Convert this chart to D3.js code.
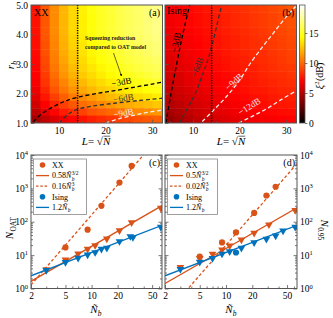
<!DOCTYPE html>
<html><head><meta charset="utf-8">
<script src="https://cdn.jsdelivr.net/npm/d3@7"></script>
<style>body{margin:0;background:#fff}svg{display:block}text{font-family:"Liberation Serif","DejaVu Serif",serif}</style>
</head><body><svg id="c" width="333" height="318"></svg>
<script>
// ---------- DATA ----------
const heatL = [5,7,9,11,13,15,17,19,21,23,25,27,29,31];
const heatR = [4.875,4.625,4.375,4.125,3.875,3.625,3.375,3.125,2.875,2.625,2.375,2.125,1.875,1.625,1.375,1.125];
const xiXX = [
[7.5,9.5,11,12.2,13.2,13.9,14.5,15,15.4,15.8,16.2,16.5,16.8,17.1],
[7.5,9.5,11,12.2,13.2,13.9,14.5,15,15.4,15.8,16.2,16.5,16.8,17.1],
[7.5,9.5,11,12.2,13.2,13.9,14.5,15,15.4,15.8,16.2,16.5,16.8,17.1],
[7.5,9.5,11,12.2,13.2,13.9,14.5,15,15.4,15.8,16.2,16.5,16.8,17.1],
[7.4,9.4,10.9,12.1,13.1,13.8,14.4,14.9,15.3,15.7,16.1,16.4,16.7,17.0],
[7.4,9.3,10.8,12.0,13.0,13.6,14.2,14.7,15.1,15.5,15.9,16.2,16.5,16.8],
[7.3,9.3,10.7,11.9,12.8,13.5,14.1,14.6,15.0,15.4,15.8,16.1,16.4,16.7],
[7.2,9.1,10.6,11.7,12.7,13.3,13.9,14.4,14.8,15.2,15.6,15.9,16.1,16.4],
[7.1,9.0,10.4,11.5,12.4,13.1,13.6,14.1,14.5,14.9,15.3,15.6,15.9,16.1],
[7.0,8.7,10.1,11.2,12.1,12.8,13.3,13.8,14.2,14.5,14.9,15.2,15.5,15.8],
[6.8,8.5,9.8,10.8,11.7,12.3,12.9,13.3,13.7,14.1,14.4,14.7,15.0,15.3],
[6.5,8.1,9.4,10.4,11.2,11.8,12.3,12.8,13.1,13.5,13.8,14.1,14.4,14.7],
[6.2,7.6,8.8,9.7,10.5,11.0,11.5,11.9,12.3,12.7,13.0,13.3,13.5,13.8],
[5.7,7.0,8.0,8.8,9.5,10.1,10.5,10.9,11.3,11.6,11.9,12.2,12.4,12.7],
[5.2,6.2,7.1,7.8,8.4,8.9,9.4,9.7,10.0,10.3,10.6,10.9,11.1,11.3],
[4.5,5.3,6.0,6.6,7.1,7.5,7.9,8.2,8.5,8.8,9.0,9.3,9.5,9.7]
];
const xiIsing = [
[6.8,7.0,7.2,7.4,7.6,7.8,8.0,8.2,8.4,8.6,8.8,9.0,9.2,9.4],
[6.7,6.9,7.1,7.3,7.5,7.7,7.9,8.1,8.3,8.5,8.7,8.9,9.1,9.3],
[6.6,6.9,7.1,7.3,7.5,7.7,7.9,8.1,8.3,8.5,8.7,8.9,9.1,9.3],
[6.5,6.8,7.0,7.2,7.4,7.6,7.8,8.0,8.2,8.4,8.6,8.8,9.0,9.2],
[6.4,6.7,6.9,7.1,7.3,7.5,7.7,7.9,8.1,8.3,8.5,8.7,8.9,9.1],
[6.3,6.6,6.8,7.0,7.2,7.5,7.7,7.9,8.1,8.3,8.4,8.6,8.8,9.0],
[6.2,6.4,6.7,6.9,7.1,7.4,7.6,7.8,8.0,8.2,8.3,8.5,8.7,8.9],
[6.1,6.3,6.6,6.8,7.0,7.3,7.5,7.7,7.9,8.1,8.2,8.4,8.6,8.8],
[5.9,6.2,6.4,6.7,6.9,7.2,7.4,7.6,7.8,7.9,8.1,8.3,8.5,8.6],
[5.8,6.0,6.3,6.6,6.8,7.0,7.2,7.4,7.6,7.8,8.0,8.2,8.3,8.5],
[5.6,5.9,6.2,6.4,6.7,6.9,7.1,7.3,7.5,7.7,7.9,8.0,8.2,8.3],
[5.4,5.7,6.0,6.3,6.5,6.8,7.0,7.2,7.4,7.6,7.7,7.9,8.0,8.1],
[5.1,5.5,5.8,6.1,6.3,6.6,6.8,7.0,7.2,7.4,7.5,7.7,7.8,7.9],
[4.9,5.2,5.6,5.9,6.1,6.4,6.6,6.8,7.0,7.2,7.3,7.5,7.6,7.7],
[4.6,4.9,5.3,5.6,5.9,6.2,6.4,6.6,6.8,7.0,7.1,7.2,7.3,7.4],
[4.2,4.6,5.0,5.3,5.6,5.9,6.1,6.3,6.5,6.7,6.8,6.9,7.0,7.1]
];
// contour lines [L, r_b]
const contXX3 = [[4.5,1.04],[6,1.28],[8.8,1.55],[11,1.72],[13.9,1.87],[18,2.0],[22,2.1],[26,2.21],[30,2.32],[32.2,2.39]];
const contXX6 = [[10,1.0],[12,1.3],[13.9,1.46],[17,1.57],[22,1.67],[27,1.76],[32.2,1.84]];
const contXX9 = [[20,1.0],[23,1.15],[26,1.26],[29,1.36],[32.2,1.44]];
const contIs3 = [[4.2,1.0],[5.3,2.0],[6.5,3.0],[7.8,4.0],[9.3,5.0]];
const contIs6 = [[7.1,1.0],[8.8,1.5],[10.5,2.0],[12.2,2.7],[13.3,3.2],[14.2,3.7],[15.1,4.3],[16.1,4.95]];
const contIs9 = [[12,1.05],[14.5,1.45],[17.2,1.9],[20,2.45],[22.2,3.0],[25,3.6],[27.2,4.04],[30,4.6],[32,4.95]];
const contIs12 = [[19.8,1.0],[23,1.25],[26,1.5],[29,1.8],[32.2,2.1]];
const dottedL = 14;
// panel (c)
const cXXcircN = [5,9,13,21,29];
const cXXcircV = [17,58,300,1490,4700];
const cXXtriN = [3,5,7,9,11,15,21,29,63];
const cXXtriV = [3.7,7.3,11.1,15.3,19.6,31,55,95,257];
const cIsTriN = [3,5,7,9,11,13,15,21,28,30,63];
const cIsTriV = [3.5,6.1,8.2,10.3,12.1,15.3,16.4,25.8,36.4,34,69.6];
// panel (d)
const dXXcircN = [5,9,13,21,29,37];
const dXXcircV = [9.1,24,48,184,611,1117];
const dXXtriN = [3,5,7,9,11,15,21,31,62];
const dXXtriV = [4.3,8.1,10.9,14.4,19.1,28.9,46,82,220];
const dIsTriN = [3,5,7,9,11,15,21,29,37,45,62];
const dIsTriV = [3.8,6.2,8.1,10.9,12.8,16.3,24,30.3,38,54,69.6];
const dIsCircN = [13];
const dIsCircV = [12];
// fit lines: endpoints at N = 2 and 65
const fitN = [2,65];
const cFitXX15 = [1.64,303.9];
const cFitXX3 = [1.28,43940];
const cFitIs = [2.4,78];
const dFitXX15 = [1.41,262];
const dFitXX3 = [0.16,5493];
const dFitIs = [2.4,78];
const cbTicks = [0,5,10,15];
const heatXTicks = [10,20,30];
const heatYTicks = [1,2,3,4,5];
const logXTicks = [2,5,10,20,50];
const logYTicks = [1,10,100,1000,10000];

// ---------- LAYOUT ----------
const svg = d3.select('#c');
const ORANGE = '#D95319', BLUE = '#0072BD', FRAME = '#555';
const A = {x0:31,x1:162.5,y0:5,y1:123};
const B = {x0:165,x1:296.5,y0:5,y1:123};
const CB = {x0:299.5,x1:305,y0:5,y1:123};
const C = {x0:31,x1:162,y0:155,y1:288.5};
const D = {x0:165,x1:297,y0:155,y1:288.5};
const TF = 9.5;

const color = d3.scaleLinear().domain([0,7,14.3,19.67]).range(['#000000','#ff0000','#ffff00','#ffffff']).clamp(true);

function mtext(parent, x, y, segs, size, opts={}) {
  const g = parent.append('g').attr('transform', `translate(${x},${y}) rotate(${opts.rot||0})`);
  const inner = g.append('g');
  const fill = opts.fill || '#000';
  let cx = 0;
  segs.forEach(s => {
    if (s.t !== undefined) {
      const t = inner.append('text').attr('x',cx).attr('y',0).attr('font-size',size).attr('fill',fill)
        .attr('font-style', s.i ? 'italic' : 'normal').text(s.t);
      const w = t.node().getComputedTextLength();
      if (s.ol) inner.append('line').attr('x1',cx+0.5).attr('x2',cx+w).attr('y1',-size*0.8).attr('y2',-size*0.8).attr('stroke',fill).attr('stroke-width',0.6);
      cx += w;
    } else {
      const fs = size*0.68;
      let w = 0;
      if (s.sup !== undefined) {
        const t = inner.append('text').attr('x',cx+0.3).attr('y',-size*0.4).attr('font-size',fs).attr('fill',fill).attr('font-style', s.si?'italic':'normal').text(s.sup);
        w = Math.max(w, t.node().getComputedTextLength());
      }
      if (s.sub !== undefined) {
        const t = inner.append('text').attr('x',cx+0.3).attr('y',size*0.28).attr('font-size',fs).attr('fill',fill).attr('font-style', s.bi===false?'normal':'italic').text(s.sub);
        w = Math.max(w, t.node().getComputedTextLength());
      }
      cx += w + 0.6;
    }
  });
  const anchor = opts.anchor || 'start';
  const off = anchor === 'middle' ? -cx/2 : anchor === 'end' ? -cx : 0;
  inner.attr('transform', `translate(${off},0)`);
  return g;
}

function clipRect(id, P) {
  svg.append('clipPath').attr('id', id).append('rect').attr('x',P.x0).attr('y',P.y0).attr('width',P.x1-P.x0).attr('height',P.y1-P.y0);
}

function styleAxis(g) {
  g.select('.domain').remove();
  g.selectAll('.tick line').attr('stroke', FRAME).attr('stroke-width', 0.8);
  g.selectAll('.tick text').attr('font-size', TF).attr('font-family','"Liberation Serif",serif').attr('fill','#000');
}

// ---------- HEATMAPS ----------
function heatPanel(P, grid, conts, id) {
  const x = d3.scaleLinear().domain([4,32.2]).range([P.x0,P.x1]);
  const y = d3.scaleLinear().domain([1,5]).range([P.y1,P.y0]);
  clipRect(id, P);
  const g = svg.append('g').attr('clip-path', `url(#${id})`);
  grid.forEach((row, i) => row.forEach((v, j) => {
    const L = heatL[j], r = heatR[i];
    g.append('rect').attr('x', x(L-1)).attr('y', y(r+0.125))
      .attr('width', x(L+1.2)-x(L-1)).attr('height', y(r-0.14)-y(r+0.125))
      .attr('fill', color(v));
  }));
  const line = d3.line().x(d=>x(d[0])).y(d=>y(d[1])).curve(d3.curveCatmullRom);
  conts.forEach(c => {
    g.append('path').attr('d', line(c.pts)).attr('fill','none').attr('stroke', c.col)
      .attr('stroke-width', 1.3).attr('stroke-dasharray', '4,2.6');
  });
  g.append('line').attr('x1', x(dottedL)).attr('x2', x(dottedL)).attr('y1', P.y0).attr('y2', P.y1)
    .attr('stroke','#000').attr('stroke-width',1.5).attr('stroke-dasharray','1.2,1.3');
  return {x, y};
}

const sa = heatPanel(A, xiXX, [
  {pts:contXX3, col:'#000'}, {pts:contXX6, col:'#333'}, {pts:contXX9, col:'#f6f0f0'}], 'clipA');
const sb = heatPanel(B, xiIsing, [
  {pts:contIs3, col:'#000'}, {pts:contIs6, col:'#333'}, {pts:contIs9, col:'#f6f0f0'}, {pts:contIs12, col:'#f6f0f0'}], 'clipB');

// heat axes
function heatAxes(P, s, showY) {
  const gx = svg.append('g').attr('transform', `translate(0,${P.y1})`)
    .call(d3.axisBottom(s.x).tickValues(heatXTicks).tickSizeInner(-3.5).tickSizeOuter(0).tickPadding(4));
  styleAxis(gx);
  const gxm = svg.append('g').attr('transform', `translate(0,${P.y1})`)
    .call(d3.axisBottom(s.x).tickValues([5,15,25]).tickFormat('').tickSizeInner(-2).tickSizeOuter(0));
  styleAxis(gxm);
  const gy = svg.append('g').attr('transform', `translate(${P.x0},0)`)
    .call(d3.axisLeft(s.y).tickValues(heatYTicks).tickFormat(showY ? d3.format('.1f') : '').tickSizeInner(-3.5).tickSizeOuter(0).tickPadding(3));
  styleAxis(gy);
  svg.append('rect').attr('x',P.x0).attr('y',P.y0).attr('width',P.x1-P.x0).attr('height',P.y1-P.y0)
    .attr('fill','none').attr('stroke',FRAME).attr('stroke-width',1);
}
heatAxes(A, sa, true);
heatAxes(B, sb, false);

// labels in heatmaps
svg.append('text').attr('x',34).attr('y',16).attr('font-size',10).text('XX');
svg.append('text').attr('x',160).attr('y',16).attr('font-size',10).attr('text-anchor','end').text('(a)');
svg.append('text').attr('x',167).attr('y',14).attr('font-size',10).text('Ising');
svg.append('text').attr('x',294).attr('y',16).attr('font-size',10).attr('text-anchor','end').text('(b)');

function clab(x, y, txt, rot, fill) {
  svg.append('text').attr('transform', `translate(${x},${y}) rotate(${rot})`).attr('text-anchor','middle')
    .attr('font-size', 9).attr('fill', fill).text(txt);
}
clab(122, 85, '\u22123dB', -10, '#000');
clab(124, 101, '\u22126dB', -8, '#333');
clab(124, 116, '\u22129dB', -10, '#f6e6e6');
clab(179, 43, '\u22123dB', -78, '#000');
clab(200, 68, '\u22126dB', -70, '#333');
clab(236, 84, '\u22129dB', -42, '#f6e6e6');
clab(251, 109, '\u221212dB', -32, '#f6e6e6');

// annotation
svg.append('text').attr('x',85).attr('y',40).attr('font-size',5.8).attr('font-family','"DejaVu Sans",sans-serif').attr('font-weight','bold').attr('fill','#222').text('Squeezing reduction');
svg.append('text').attr('x',85).attr('y',48.5).attr('font-size',5.8).attr('font-family','"DejaVu Sans",sans-serif').attr('font-weight','bold').attr('fill','#222').text('compared to OAT model');
svg.append('defs').append('marker').attr('id','arr').attr('viewBox','0 0 10 10').attr('refX',9).attr('refY',5)
  .attr('markerWidth',4).attr('markerHeight',4).attr('orient','auto')
  .append('path').attr('d','M0,0 L10,5 L0,10 z').attr('fill','#000');
svg.append('line').attr('x1',113.5).attr('y1',53).attr('x2',121.5).attr('y2',76).attr('stroke','#000').attr('stroke-width',0.6).attr('marker-end','url(#arr)');

// axis titles heat
mtext(svg, 96, 145, [{t:'L',i:true},{t:' = \u221A'},{t:'N',i:true,ol:true}], 11, {anchor:'middle'});
mtext(svg, 231, 145, [{t:'L',i:true},{t:' = \u221A'},{t:'N',i:true,ol:true}], 11, {anchor:'middle'});
mtext(svg, 14, 65, [{t:'r',i:true},{sub:'b'}], 11, {anchor:'middle', rot:-90});

// colorbar
const cbY = d3.scaleLinear().domain([0,19.67]).range([CB.y1, CB.y0]);
const grad = svg.append('defs').append('linearGradient').attr('id','cbg').attr('x1',0).attr('y1',1).attr('x2',0).attr('y2',0);
color.domain().forEach((v) => grad.append('stop').attr('offset', v/19.67).attr('stop-color', color(v)));
svg.append('rect').attr('x',CB.x0).attr('y',CB.y0).attr('width',CB.x1-CB.x0).attr('height',CB.y1-CB.y0).attr('fill','url(#cbg)');
const gcb = svg.append('g').attr('transform', `translate(${CB.x1},0)`)
  .call(d3.axisRight(cbY).tickValues(cbTicks).tickSizeInner(2.5).tickSizeOuter(0).tickPadding(1.5));
styleAxis(gcb);
svg.append('rect').attr('x',CB.x0).attr('y',CB.y0).attr('width',CB.x1-CB.x0).attr('height',CB.y1-CB.y0).attr('fill','none').attr('stroke',FRAME).attr('stroke-width',0.8);
mtext(svg, 322.5, 76, [{t:'\u03BE',i:true},{sup:'2'},{t:'(dB)'}], 10, {anchor:'middle', rot:-90});

// ---------- LOG PANELS ----------
function logPanel(P, id, leftLabels) {
  const x = d3.scaleLog().domain([2,65]).range([P.x0,P.x1]);
  const y = d3.scaleLog().domain([1,1e4]).range([P.y1,P.y0]);
  svg.append('rect').attr('x',P.x0).attr('y',P.y0).attr('width',P.x1-P.x0).attr('height',P.y1-P.y0).attr('fill','#fff');
  clipRect(id, P);
  const minorX = [3,4,6,7,8,9,30,40,60];
  const minorY = [];
  [1,10,100,1000].forEach(d => { for (let k=2;k<10;k++) minorY.push(d*k); });
  const gx = svg.append('g').attr('transform', `translate(0,${P.y1})`)
    .call(d3.axisBottom(x).tickValues(logXTicks).tickFormat(d3.format('d')).tickSizeInner(-3.5).tickSizeOuter(0).tickPadding(4));
  styleAxis(gx);
  styleAxis(svg.append('g').attr('transform', `translate(0,${P.y1})`)
    .call(d3.axisBottom(x).tickValues(minorX).tickFormat('').tickSizeInner(-2).tickSizeOuter(0)));
  const sup = function(d) {
    const t = d3.select(this); t.text('');
    t.append('tspan').text('10');
    t.append('tspan').attr('dy',-3.5).attr('font-size',6.5).text(Math.round(Math.log10(d)));
  };
  const gyl = svg.append('g').attr('transform', `translate(${P.x0},0)`)
    .call(d3.axisLeft(y).tickValues(logYTicks).tickFormat(leftLabels ? d3.format('d') : '').tickSizeInner(-3.5).tickSizeOuter(0).tickPadding(3));
  styleAxis(gyl);
  if (leftLabels) gyl.selectAll('.tick text').each(sup);
  styleAxis(svg.append('g').attr('transform', `translate(${P.x0},0)`)
    .call(d3.axisLeft(y).tickValues(minorY).tickFormat('').tickSizeInner(-2).tickSizeOuter(0)));
  const gyr = svg.append('g').attr('transform', `translate(${P.x1},0)`)
    .call(d3.axisRight(y).tickValues(logYTicks).tickFormat(leftLabels ? '' : d3.format('d')).tickSizeInner(-3.5).tickSizeOuter(0).tickPadding(3));
  styleAxis(gyr);
  if (!leftLabels) gyr.selectAll('.tick text').each(sup);
  styleAxis(svg.append('g').attr('transform', `translate(${P.x1},0)`)
    .call(d3.axisRight(y).tickValues(minorY).tickFormat('').tickSizeInner(-2).tickSizeOuter(0)));
  const g = svg.append('g').attr('clip-path', `url(#${id})`);
  return {x, y, g};
}

function drawData(S, fits, circs, tris) {
  const line = d3.line().x(d=>S.x(d[0])).y(d=>S.y(d[1]));
  fits.forEach(f => {
    S.g.append('path').attr('d', line(fitN.map((n,i)=>[n, f.v[i]]))).attr('fill','none')
      .attr('stroke', f.col).attr('stroke-width', 1.3).attr('stroke-dasharray', f.dash ? '3,2.2' : null);
  });
  const tri = d3.symbol().type(d3.symbolTriangle).size(26);
  tris.forEach(t => t.n.forEach((n,i) => {
    S.g.append('path').attr('d', tri()).attr('transform', `translate(${S.x(n)},${S.y(t.v[i])}) rotate(180)`).attr('fill', t.col);
  }));
  circs.forEach(c => c.n.forEach((n,i) => {
    S.g.append('circle').attr('cx', S.x(n)).attr('cy', S.y(c.v[i])).attr('r', 3.1).attr('fill', c.col);
  }));
}

const sc = logPanel(C, 'clipC', true);
drawData(sc, [
  {v:cFitXX15, col:ORANGE}, {v:cFitXX3, col:ORANGE, dash:true}, {v:cFitIs, col:BLUE}],
  [{n:cXXcircN, v:cXXcircV, col:ORANGE}],
  [{n:cXXtriN, v:cXXtriV, col:ORANGE}, {n:cIsTriN, v:cIsTriV, col:BLUE}]);
svg.append('rect').attr('x',C.x0).attr('y',C.y0).attr('width',C.x1-C.x0).attr('height',C.y1-C.y0).attr('fill','none').attr('stroke',FRAME).attr('stroke-width',1);

const sd = logPanel(D, 'clipD', false);
drawData(sd, [
  {v:dFitXX15, col:ORANGE}, {v:dFitXX3, col:ORANGE, dash:true}, {v:dFitIs, col:BLUE}],
  [{n:dXXcircN, v:dXXcircV, col:ORANGE}, {n:dIsCircN, v:dIsCircV, col:BLUE}],
  [{n:dXXtriN, v:dXXtriV, col:ORANGE}, {n:dIsTriN, v:dIsTriV, col:BLUE}]);
svg.append('rect').attr('x',D.x0).attr('y',D.y0).attr('width',D.x1-D.x0).attr('height',D.y1-D.y0).attr('fill','none').attr('stroke',FRAME).attr('stroke-width',1);

svg.append('text').attr('x',160).attr('y',166).attr('font-size',10).attr('text-anchor','end').text('(c)');
svg.append('text').attr('x',295).attr('y',166).attr('font-size',10).attr('text-anchor','end').text('(d)');

// legends
function legend(x0, y0, w, h, entries) {
  svg.append('rect').attr('x',x0).attr('y',y0).attr('width',w).attr('height',h).attr('fill','#fff').attr('stroke','#888').attr('stroke-width',0.8);
  entries.forEach((e, i) => {
    const yy = y0 + 6 + i*10.6;
    const mx = x0 + 9;
    if (e.type === 'c') svg.append('circle').attr('cx',mx).attr('cy',yy).attr('r',2.8).attr('fill',e.col);
    else svg.append('line').attr('x1',mx-6.5).attr('x2',mx+6.5).attr('y1',yy).attr('y2',yy).attr('stroke',e.col).attr('stroke-width',1.3).attr('stroke-dasharray', e.type==='d' ? '2.5,1.8' : null);
    mtext(svg, x0+18.5, yy+2.8, e.segs, 8);
  });
}
const NT = {t:'\u00D1', i:true};
legend(33.5, 159, 53, 55.5, [
  {type:'c', col:ORANGE, segs:[{t:'XX'}]},
  {type:'l', col:ORANGE, segs:[{t:'0.58'}, NT, {sub:'b', sup:'3/2'}]},
  {type:'d', col:ORANGE, segs:[{t:'0.16'}, NT, {sub:'b', sup:'3'}]},
  {type:'c', col:BLUE, segs:[{t:'Ising'}]},
  {type:'l', col:BLUE, segs:[{t:'1.2'}, NT, {sub:'b'}]}
]);
legend(167.5, 159, 50, 55.5, [
  {type:'c', col:ORANGE, segs:[{t:'XX'}]},
  {type:'l', col:ORANGE, segs:[{t:'0.5'}, NT, {sub:'b', sup:'3/2'}]},
  {type:'d', col:ORANGE, segs:[{t:'0.02'}, NT, {sub:'b', sup:'3'}]},
  {type:'c', col:BLUE, segs:[{t:'Ising'}]},
  {type:'l', col:BLUE, segs:[{t:'1.2'}, NT, {sub:'b'}]}
]);

// axis titles log panels
mtext(svg, 96, 313, [NT, {sub:'b'}], 11, {anchor:'middle'});
mtext(svg, 231, 313, [NT, {sub:'b'}], 11, {anchor:'middle'});
mtext(svg, 13, 228, [{t:'N',i:true},{sub:'OAT', bi:false}], 11, {anchor:'middle', rot:-90});
mtext(svg, 321, 230, [{t:'N',i:true},{sub:'0.95', bi:false}], 11, {anchor:'middle', rot:90});
</script></body></html>
